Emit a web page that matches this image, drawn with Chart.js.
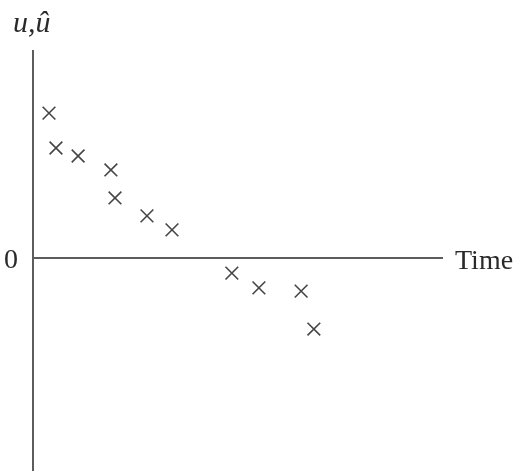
<!DOCTYPE html>
<html>
<head>
<meta charset="utf-8">
<script src="https://cdn.jsdelivr.net/npm/chart.js@4/dist/chart.umd.min.js"></script>
<style>
  html, body { margin: 0; padding: 0; background: #fff; }
  #wrap { width: 520px; height: 471px; position: relative; }
</style>
</head>
<body>
<div id="wrap"><canvas id="c"></canvas></div>
<script>
// Observation times and residual values (u, û)
const times  = [0.39, 0.56, 1.10, 1.90, 2.00, 2.78, 3.39, 4.85, 5.51, 6.54, 6.85];
const values = [3.62, 2.75, 2.55, 2.20, 1.50, 1.05, 0.70, -0.38, -0.75, -0.83, -1.78];

// Axis extents and labels
const timeRange  = [0, 10];
const valueRange = [-5.33, 5.2];
const zeroLabel  = '0';
const xLabel     = 'Time';
const yLabel     = 'u,\u00fb';

const points = times.map((t, i) => ({ x: t, y: values[i] }));

// Draws the two axis lines crossing at (0, 0) plus their labels
const axesPlugin = {
  id: 'axesPlugin',
  afterDraw(chart) {
    const { ctx, scales: { x, y }, chartArea } = chart;
    const x0 = x.getPixelForValue(timeRange[0]);
    const x1 = x.getPixelForValue(timeRange[1]);
    const y0 = y.getPixelForValue(0);
    ctx.save();
    ctx.strokeStyle = '#5c5c5c';
    ctx.lineWidth = 2;
    ctx.beginPath();
    ctx.moveTo(x0, chartArea.top);
    ctx.lineTo(x0, chartArea.bottom);
    ctx.moveTo(x0, y0);
    ctx.lineTo(x1, y0);
    ctx.stroke();

    ctx.fillStyle = '#2a2a2a';
    ctx.textBaseline = 'alphabetic';
    ctx.font = '28px "Liberation Serif", "DejaVu Serif", serif';
    ctx.textAlign = 'center';
    ctx.fillText(zeroLabel, x0 - 22, y0 + 10);
    ctx.textAlign = 'left';
    ctx.fillText(xLabel, x1 + 12, y0 + 11);
    ctx.font = 'italic 30px "Liberation Serif", "DejaVu Serif", serif';
    ctx.fillText(yLabel, x0 - 20, chartArea.top - 18);
    ctx.restore();
  }
};

new Chart(document.getElementById('c'), {
  type: 'scatter',
  data: {
    datasets: [{
      data: points,
      pointStyle: 'crossRot',
      pointRadius: 9,
      pointBorderWidth: 1.6,
      borderColor: '#454545',
      backgroundColor: '#454545'
    }]
  },
  options: {
    responsive: true,
    maintainAspectRatio: false,
    animation: false,
    layout: { autoPadding: false, padding: { left: 33, right: 77, top: 50, bottom: 0 } },
    plugins: { legend: { display: false }, tooltip: { enabled: false } },
    scales: {
      x: { type: 'linear', min: timeRange[0], max: timeRange[1], display: false },
      y: { type: 'linear', min: valueRange[0], max: valueRange[1], display: false }
    }
  },
  plugins: [axesPlugin]
});
</script>
</body>
</html>
